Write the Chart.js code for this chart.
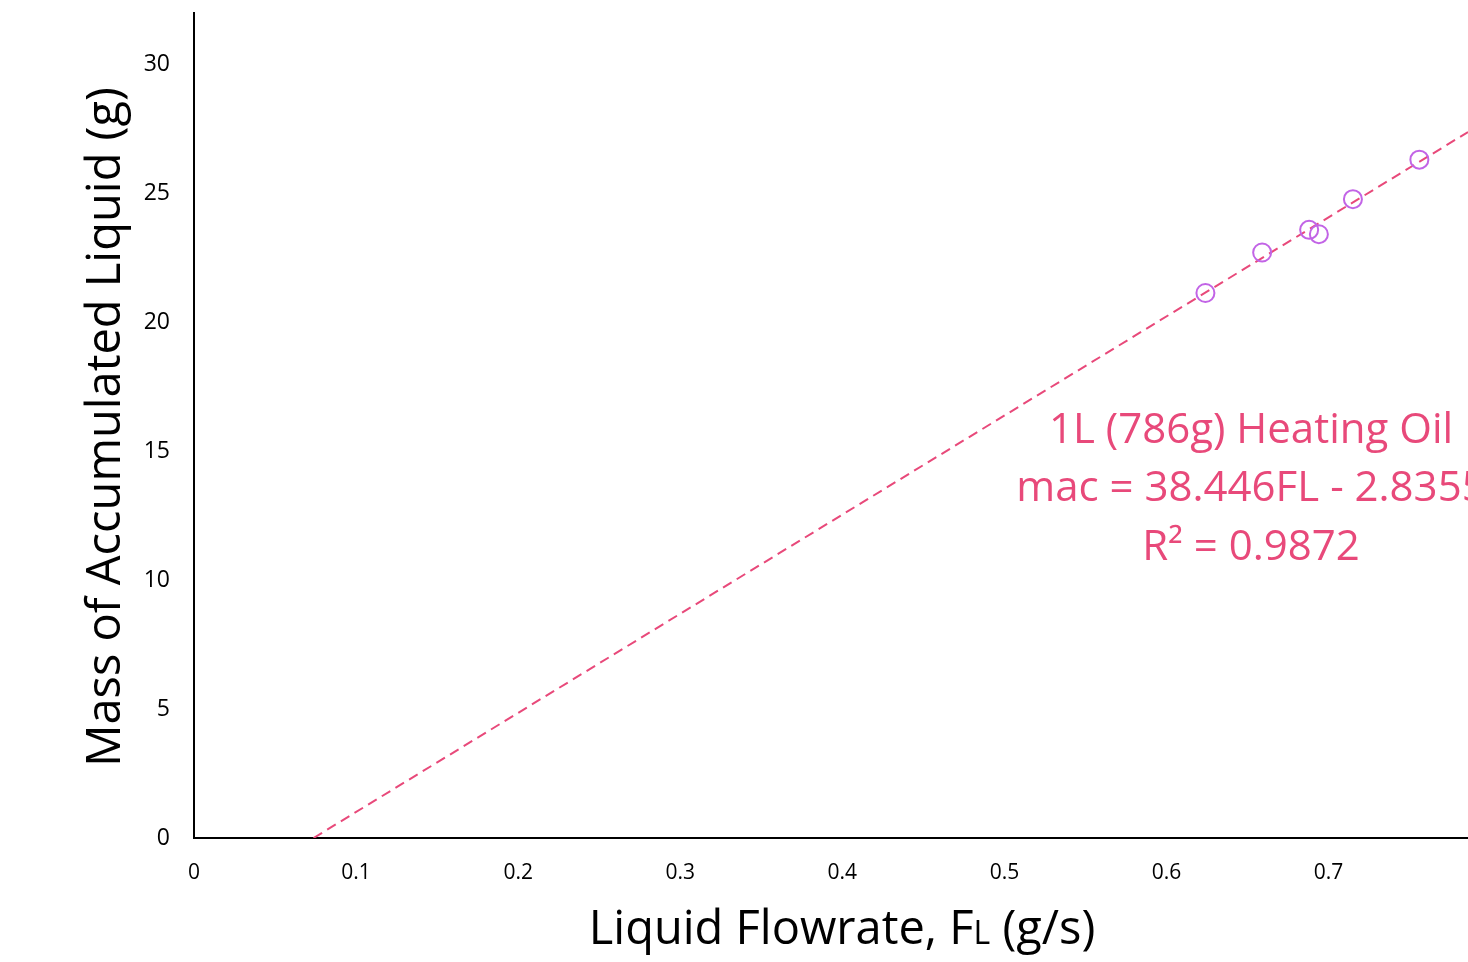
<!DOCTYPE html>
<html>
<head>
<meta charset="utf-8">
<script src="https://cdn.jsdelivr.net/npm/chart.js@4.4.1/dist/chart.umd.min.js"></script>
<style>
    html, body { margin: 0; padding: 0; background: #ffffff; }
    #wrap { width: 1468px; height: 962px; position: relative; }
</style>
</head>
<body>
<div id="wrap"><canvas id="flowChart" width="1468" height="962"></canvas></div>
<script>
// Heating oil: accumulated liquid vs liquid flowrate
const flowRate = [0.624, 0.659, 0.688, 0.694, 0.715, 0.756];
const massAccum = [21.14, 22.71, 23.59, 23.42, 24.78, 26.31];

// linear trendline from the chart's equation
const fitSlope = 38.446;
const fitIntercept = -2.8355;

const xTickStep = 0.1;
const yTickStep = 5;
const xMax = 0.786;
const yMax = 32;

const annotationLines = ['1L (786g) Heating Oil', 'mac = 38.446FL - 2.8355', 'R² = 0.9872'];

const FONT = '"Open Sans", "DejaVu Sans", sans-serif';
const PINK = '#E8497A';
const PURPLE = '#C264E6';

const points = flowRate.map((x, i) => ({ x: x, y: massAccum[i] }));
const xStart = -fitIntercept / fitSlope;
const trendPoints = [
    { x: xStart, y: 0 },
    { x: xMax, y: fitSlope * xMax + fitIntercept }
];

function keepMultiples(step) {
    return function(scale) {
        scale.ticks = scale.ticks.filter(t => Math.abs(t.value / step - Math.round(t.value / step)) < 1e-6);
    };
}

// titles and the trendline label, drawn on top of the chart
const textPlugin = {
    id: 'textPlugin',
    afterDraw(chart) {
        const ctx = chart.ctx;
        ctx.save();
        ctx.fillStyle = '#000000';
        ctx.textBaseline = 'middle';

        // y axis title
        ctx.save();
        ctx.translate(107, 427);
        ctx.rotate(-Math.PI / 2);
        ctx.textAlign = 'center';
        ctx.font = '47px ' + FONT;
        ctx.fillText('Mass of Accumulated Liquid (g)', 0, 0);
        ctx.restore();

        // x axis title with a small "L" after F
        const parts = [
            { t: 'Liquid Flowrate, F', size: 47 },
            { t: 'L', size: 32 },
            { t: ' (g/s)', size: 47 }
        ];
        let total = 0;
        parts.forEach(p => {
            ctx.font = p.size + 'px ' + FONT;
            p.w = ctx.measureText(p.t).width;
            total += p.w;
        });
        let x = 842 - total / 2;
        ctx.textAlign = 'left';
        ctx.textBaseline = 'alphabetic';
        parts.forEach(p => {
            ctx.font = p.size + 'px ' + FONT;
            ctx.fillText(p.t, x, 944);
            x += p.w;
        });

        // equation label
        ctx.fillStyle = PINK;
        ctx.textAlign = 'center';
        ctx.textBaseline = 'middle';
        ctx.font = '42px ' + FONT;
        annotationLines.forEach((line, i) => {
            ctx.fillText(line, 1251, 431 + i * 58.5);
        });
        ctx.restore();
    }
};

new Chart(document.getElementById('flowChart').getContext('2d'), {
    type: 'scatter',
    data: {
        datasets: [
            {
                label: 'Heating Oil',
                data: points,
                showLine: false,
                pointStyle: 'circle',
                pointRadius: 9,
                pointHoverRadius: 9,
                pointBorderWidth: 2,
                pointBorderColor: PURPLE,
                pointBackgroundColor: 'rgba(0,0,0,0)',
                order: 1
            },
            {
                label: 'Linear fit',
                data: trendPoints,
                showLine: true,
                borderColor: PINK,
                borderWidth: 2,
                borderDash: [10, 6],
                pointRadius: 0,
                fill: false,
                order: 2
            }
        ]
    },
    options: {
        responsive: false,
        animation: false,
        layout: {
            autoPadding: false,
            padding: { top: 13, right: 0, bottom: 0, left: 0 }
        },
        plugins: {
            legend: { display: false },
            tooltip: { enabled: false }
        },
        scales: {
            x: {
                type: 'linear',
                min: 0,
                max: xMax,
                afterFit(scale) {
                    scale.height = 124;
                    scale.paddingLeft = 0;
                    scale.paddingRight = 0;
                },
                afterBuildTicks: keepMultiples(xTickStep),
                grid: { display: false, drawTicks: false },
                border: { display: true, color: '#000000', width: 2 },
                ticks: {
                    stepSize: xTickStep,
                    padding: 22,
                    color: '#000000',
                    font: { family: FONT, size: 21 },
                    maxRotation: 0,
                    callback: value => String(+value.toFixed(1))
                }
            },
            y: {
                type: 'linear',
                min: 0,
                max: yMax,
                afterFit(scale) {
                    scale.width = 194;
                    scale.paddingTop = 0;
                    scale.paddingBottom = 0;
                },
                afterBuildTicks: keepMultiples(yTickStep),
                grid: { display: false, drawTicks: false },
                border: { display: true, color: '#000000', width: 2 },
                ticks: {
                    stepSize: yTickStep,
                    padding: 24,
                    color: '#000000',
                    font: { family: FONT, size: 23 }
                }
            }
        }
    },
    plugins: [textPlugin]
});
</script>
</body>
</html>
